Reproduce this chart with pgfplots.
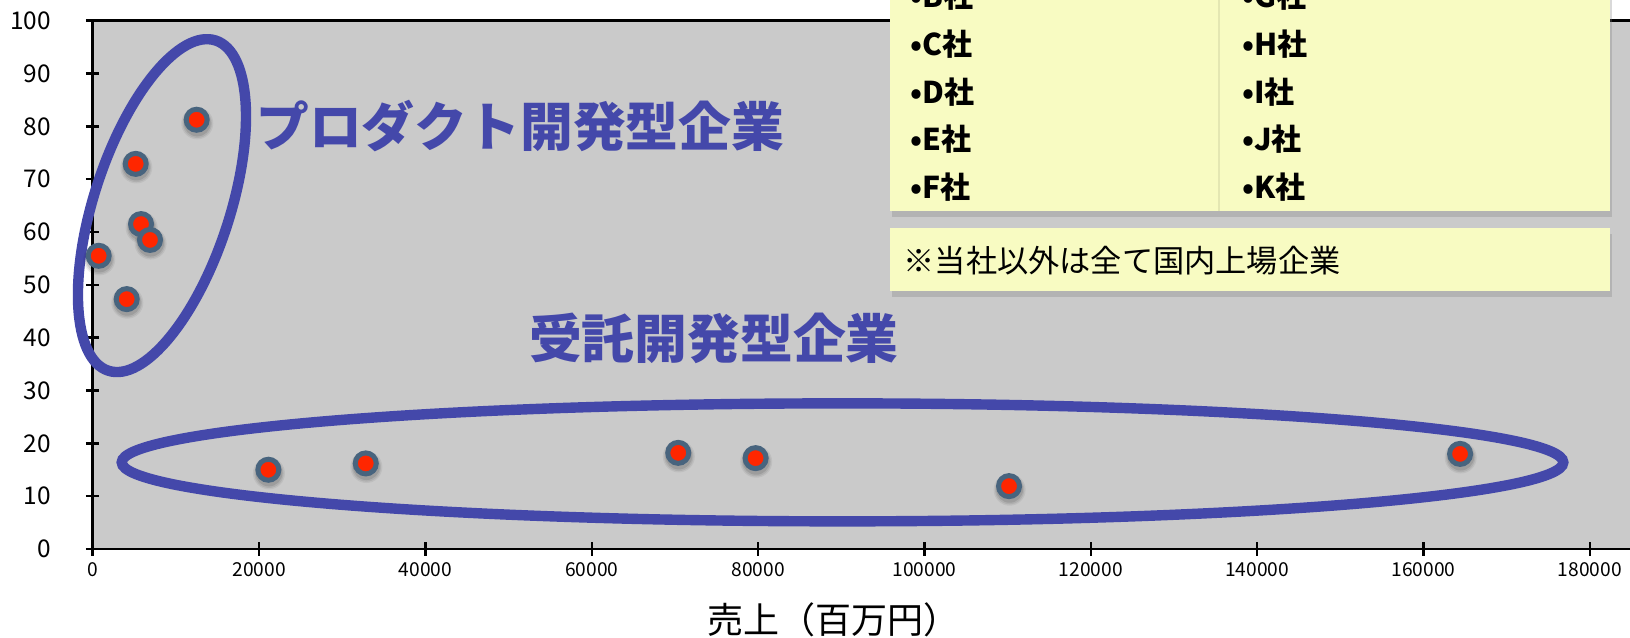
\documentclass[border=0pt]{standalone}
\usepackage{fontspec}
\setmainfont{Noto Sans CJK JP}
\usepackage{pgfplots}
\usepackage{pgfplotstable}
\pgfplotsset{compat=1.18}
\usetikzlibrary{shadows}
\definecolor{plotbg}{RGB}{202,202,202}
\definecolor{ellcol}{RGB}{68,72,170}
\definecolor{markred}{RGB}{255,38,0}
\definecolor{markborder}{RGB}{72,100,126}
\definecolor{boxyellow}{RGB}{248,251,194}
\definecolor{boxline}{RGB}{228,231,178}

\pgfplotstableread{
x y
720 55.5
4090 47.3
5170 72.9
5810 61.5
6890 58.5
12500 81.25
21120 15.0
32830 16.2
70400 18.2
79700 17.2
110170 11.9
164400 18.0
}\pts

\begin{document}
\begin{tikzpicture}
\useasboundingbox (-46.35pt,-44.5pt) rectangle (768.65pt,274.5pt);
\clip (-46.35pt,-44.5pt) rectangle (768.65pt,274.5pt);
\begin{axis}[
  at={(0pt,0pt)}, anchor=south west,
  scale only axis, width=768.65pt, height=264.15pt,
  xmin=0, xmax=184830, ymin=0, ymax=100,
  axis lines*=left,
  axis line style={line width=1.3pt, black},
  axis background/.style={fill=plotbg},
  xtick={0,20000,...,180000}, ytick={0,10,...,100},
  scaled x ticks=false,
  /pgf/number format/assume math mode=true,
  x tick label style={/pgf/number format/fixed, /pgf/number format/1000 sep={}, font=\fontsize{9.6}{10}\selectfont},
  y tick label style={/pgf/number format/fixed, font=\fontsize{12.2}{12}\selectfont, xshift=-14pt},
  tick align=center, major tick length=6.7pt,
  tick style={line width=1.2pt, black},
  xlabel={売上（百万円）},
  xlabel style={at={(axis description cs:0.4822,-0.1344)}, anchor=center, font=\fontsize{18}{18}\selectfont},
  clip=false,
]
\draw[line width=1.3pt] (rel axis cs:0,1) -- (rel axis cs:1,1);
\draw[ellcol, line width=5.2pt] (axis cs:8330,65.0) circle[x radius=86.8pt, y radius=34pt, rotate=72];
\draw[ellcol, line width=5.2pt] (axis cs:90150,16.4) circle[x radius=360.4pt, y radius=29.5pt];
\addplot[only marks, mark=*, mark size=8.0pt, mark options={line width=0pt, draw opacity=0, fill=black, fill opacity=0.06, xshift=0.3pt, yshift=-1.8pt}] table {\pts};
\addplot[only marks, mark=*, mark size=7.3pt, mark options={line width=0pt, draw opacity=0, fill=black, fill opacity=0.08, xshift=0.3pt, yshift=-1.8pt}] table {\pts};
\addplot[only marks, mark=*, mark size=6.7pt, mark options={line width=0pt, draw opacity=0, fill=black, fill opacity=0.10, xshift=0.3pt, yshift=-1.6pt}] table {\pts};
\addplot[only marks, mark=*, mark size=5.25pt, mark options={draw=markborder, line width=2.5pt, fill=markred}] table {\pts};
\end{axis}

\node[anchor=west, inner sep=0, text=ellcol, font=\fontsize{26.4}{27}\selectfont\bfseries] at (81.65pt,211.5pt) {プロダクト開発型企業};
\node[anchor=west, inner sep=0, text=ellcol, font=\fontsize{26.4}{27}\selectfont\bfseries] at (218pt,105.5pt) {受託開発型企業};

\path[fill=boxyellow, drop shadow={shadow xshift=1pt, shadow yshift=-3pt, opacity=0.3}] (398.85pt,169.15pt) rectangle (563.15pt,300pt);
\path[fill=boxyellow, drop shadow={shadow xshift=1pt, shadow yshift=-3pt, opacity=0.3}] (563.15pt,169.15pt) rectangle (758.55pt,300pt);
\draw[boxline, line width=0.6pt] (563.15pt,169.15pt) -- (563.15pt,300pt);
\path[fill=boxyellow, drop shadow={shadow xshift=1pt, shadow yshift=-3pt, opacity=0.3}] (398.85pt,129.15pt) rectangle (758.55pt,160.35pt);

\begin{scope}[every node/.style={anchor=west, inner sep=0, font=\fontsize{15}{15}\selectfont\bfseries}]
\node at (408.65pt,276.35pt) {•B社};
\node at (408.65pt,252.5pt) {•C社};
\node at (408.65pt,228.65pt) {•D社};
\node at (408.65pt,204.8pt) {•E社};
\node at (408.65pt,180.95pt) {•F社};
\node at (574.5pt,276.35pt) {•G社};
\node at (574.5pt,252.5pt) {•H社};
\node at (574.5pt,228.65pt) {•I社};
\node at (574.5pt,204.8pt) {•J社};
\node at (574.5pt,180.95pt) {•K社};
\end{scope}
\node[anchor=west, inner sep=0, font=\fontsize{15.6}{16}\selectfont] at (405.3pt,144.15pt) {※当社以外は全て国内上場企業};
\end{tikzpicture}
\end{document}
